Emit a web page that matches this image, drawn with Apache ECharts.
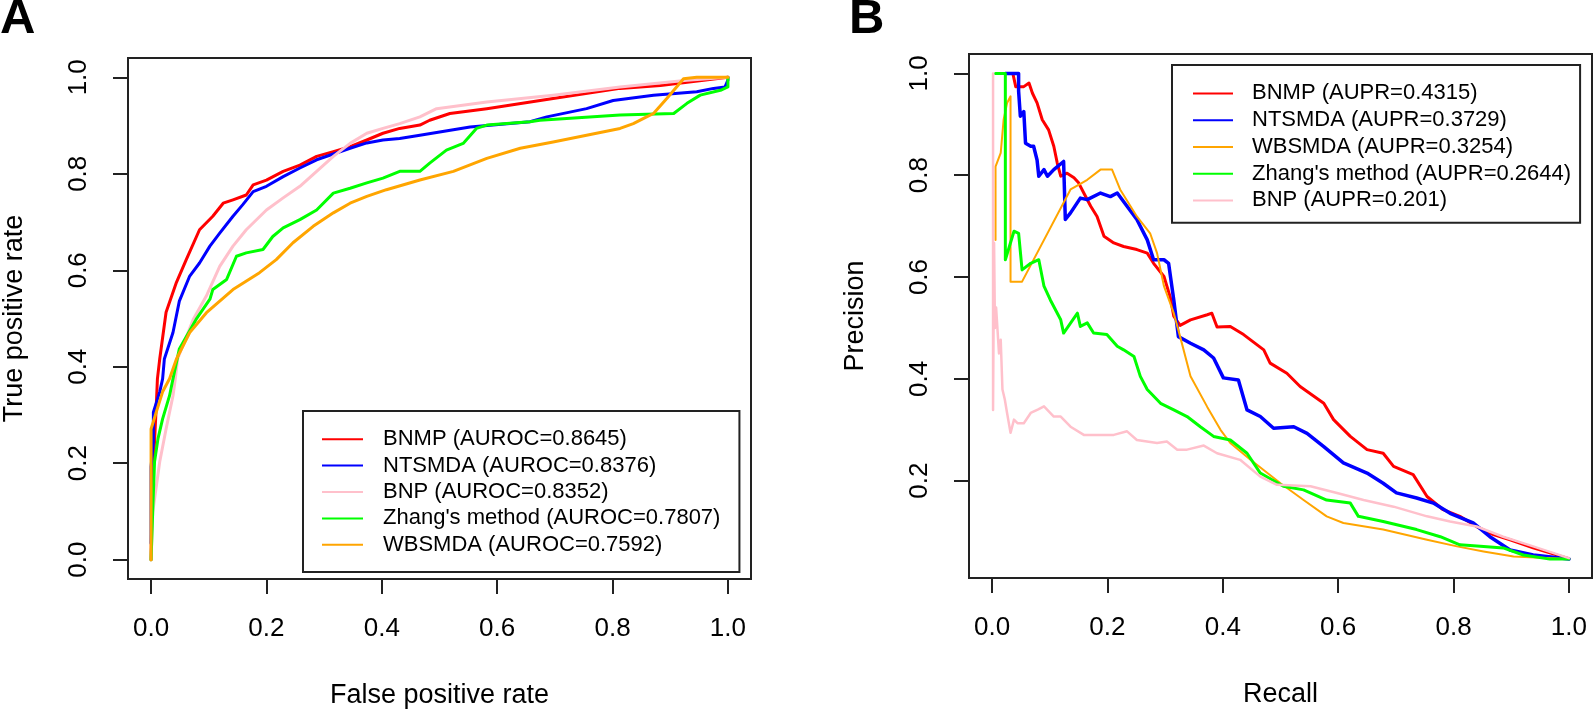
<!DOCTYPE html>
<html>
<head>
<meta charset="utf-8">
<title>ROC and PR curves</title>
<script src="https://cdn.jsdelivr.net/npm/echarts@6.0.0/dist/echarts.min.js"></script>
<style>
html,body{margin:0;padding:0;background:#fff;}
#main{width:1594px;height:714px;}
</style>
</head>
<body>
<div id="main"></div>
<script>
// tick labels
var rocTicks=[0,0.2,0.4,0.6,0.8,1.0];
var prXTicks=[0,0.2,0.4,0.6,0.8,1.0];
var prYTicks=[0.2,0.4,0.6,0.8,1.0];

// legend names (in legend order)
var rocNames=['BNMP (AUROC=0.8645)','NTSMDA (AUROC=0.8376)','BNP (AUROC=0.8352)',"Zhang's method (AUROC=0.7807)",'WBSMDA (AUROC=0.7592)'];
var prNames=['BNMP (AUPR=0.4315)','NTSMDA (AUPR=0.3729)','WBSMDA (AUPR=0.3254)',"Zhang's method (AUPR=0.2644)",'BNP (AUPR=0.201)'];

// ROC curves: [false positive rate, true positive rate]
var rocBNMP=[[0,0],[0.002,0.15],[0.006,0.245],[0.009,0.319],[0.011,0.375],[0.015,0.416],[0.026,0.513],[0.044,0.575],[0.061,0.622],[0.084,0.684],[0.107,0.712],[0.125,0.739],[0.142,0.746],[0.165,0.756],[0.177,0.777],[0.200,0.787],[0.229,0.805],[0.258,0.818],[0.287,0.836],[0.316,0.846],[0.345,0.856],[0.374,0.870],[0.402,0.884],[0.431,0.894],[0.466,0.901],[0.483,0.911],[0.518,0.925],[0.582,0.935],[0.697,0.956],[0.813,0.977],[0.883,0.983],[0.958,0.994],[1,1]];
var rocNTSMDA=[[0,0.034],[0,0.193],[0.004,0.245],[0.004,0.306],[0.015,0.348],[0.020,0.375],[0.023,0.416],[0.038,0.471],[0.049,0.536],[0.067,0.588],[0.084,0.615],[0.102,0.650],[0.119,0.677],[0.142,0.712],[0.159,0.736],[0.177,0.763],[0.200,0.774],[0.229,0.794],[0.258,0.812],[0.287,0.829],[0.316,0.841],[0.345,0.853],[0.374,0.864],[0.402,0.870],[0.431,0.873],[0.466,0.880],[0.553,0.897],[0.657,0.908],[0.686,0.918],[0.755,0.935],[0.801,0.952],[0.871,0.963],[0.946,0.970],[0.975,0.977],[0.995,0.980],[1,0.994],[1,1]];
var rocBNP=[[0,0],[0.003,0.1],[0.015,0.203],[0.026,0.271],[0.038,0.34],[0.042,0.375],[0.046,0.416],[0.073,0.498],[0.096,0.547],[0.119,0.608],[0.142,0.650],[0.165,0.684],[0.200,0.725],[0.229,0.750],[0.258,0.774],[0.287,0.805],[0.316,0.836],[0.345,0.863],[0.374,0.884],[0.402,0.894],[0.431,0.904],[0.466,0.918],[0.495,0.935],[0.582,0.949],[0.697,0.963],[0.813,0.980],[0.929,0.994],[1,1]];
var rocZhang=[[0,0],[0.003,0.106],[0.006,0.203],[0.012,0.251],[0.020,0.292],[0.032,0.34],[0.038,0.375],[0.049,0.437],[0.078,0.498],[0.102,0.540],[0.107,0.560],[0.131,0.581],[0.148,0.629],[0.165,0.636],[0.194,0.643],[0.211,0.670],[0.229,0.688],[0.258,0.705],[0.287,0.725],[0.316,0.760],[0.345,0.770],[0.374,0.781],[0.402,0.791],[0.431,0.805],[0.466,0.805],[0.483,0.822],[0.512,0.849],[0.541,0.863],[0.564,0.894],[0.582,0.901],[0.657,0.908],[0.674,0.911],[0.813,0.922],[0.906,0.925],[0.929,0.946],[0.952,0.963],[0.987,0.973],[1,0.98],[1,1]];
var rocWBSMDA=[[0,0],[0,0.203],[0,0.271],[0.009,0.306],[0.020,0.348],[0.032,0.375],[0.044,0.416],[0.067,0.471],[0.096,0.512],[0.142,0.560],[0.188,0.595],[0.217,0.622],[0.246,0.657],[0.281,0.691],[0.316,0.719],[0.345,0.739],[0.374,0.753],[0.408,0.767],[0.466,0.787],[0.524,0.805],[0.582,0.832],[0.640,0.853],[0.697,0.866],[0.755,0.880],[0.813,0.894],[0.836,0.904],[0.859,0.918],[0.871,0.925],[0.894,0.956],[0.911,0.980],[0.923,0.997],[0.946,1.0],[1,1]];

// PR curves: [recall, precision]
var prBNMP=[[0.036,1.0],[0.041,0.974],[0.055,0.974],[0.064,0.981],[0.070,0.961],[0.078,0.942],[0.087,0.909],[0.098,0.889],[0.107,0.857],[0.113,0.824],[0.119,0.798],[0.130,0.804],[0.142,0.795],[0.150,0.785],[0.159,0.765],[0.171,0.739],[0.182,0.719],[0.194,0.680],[0.211,0.667],[0.228,0.660],[0.251,0.654],[0.269,0.647],[0.280,0.627],[0.298,0.601],[0.309,0.560],[0.315,0.523],[0.326,0.505],[0.344,0.516],[0.373,0.526],[0.381,0.529],[0.390,0.502],[0.413,0.503],[0.436,0.487],[0.471,0.457],[0.482,0.431],[0.511,0.411],[0.534,0.385],[0.575,0.352],[0.592,0.320],[0.621,0.287],[0.650,0.261],[0.678,0.254],[0.696,0.228],[0.730,0.212],[0.754,0.169],[0.782,0.143],[0.811,0.130],[0.840,0.110],[0.869,0.094],[0.898,0.084],[0.938,0.068],[1.0,0.047]];
var prNTSMDA=[[0.023,1.0],[0.046,1.0],[0.046,0.965],[0.049,0.916],[0.055,0.925],[0.058,0.863],[0.067,0.857],[0.072,0.857],[0.078,0.830],[0.081,0.798],[0.090,0.811],[0.096,0.798],[0.107,0.811],[0.124,0.827],[0.127,0.713],[0.136,0.726],[0.153,0.755],[0.165,0.752],[0.188,0.765],[0.205,0.758],[0.217,0.765],[0.234,0.739],[0.251,0.713],[0.269,0.673],[0.280,0.634],[0.298,0.634],[0.306,0.627],[0.315,0.555],[0.323,0.483],[0.344,0.470],[0.367,0.457],[0.384,0.441],[0.401,0.402],[0.427,0.398],[0.442,0.339],[0.465,0.326],[0.488,0.303],[0.523,0.306],[0.546,0.293],[0.575,0.267],[0.609,0.235],[0.650,0.215],[0.678,0.195],[0.701,0.176],[0.736,0.166],[0.765,0.156],[0.794,0.136],[0.834,0.117],[0.863,0.090],[0.898,0.064],[0.938,0.054],[1.0,0.046]];
var prWBSMDA=[[0.006,0.673],[0.006,0.817],[0.015,0.844],[0.020,0.909],[0.026,0.942],[0.032,0.955],[0.032,0.591],[0.052,0.591],[0.136,0.772],[0.150,0.781],[0.165,0.791],[0.188,0.811],[0.208,0.811],[0.222,0.772],[0.251,0.719],[0.274,0.686],[0.286,0.647],[0.298,0.582],[0.315,0.529],[0.326,0.483],[0.344,0.405],[0.373,0.345],[0.396,0.300],[0.413,0.274],[0.448,0.241],[0.500,0.195],[0.540,0.162],[0.580,0.130],[0.609,0.117],[0.678,0.104],[0.754,0.084],[0.806,0.071],[0.852,0.061],[0.904,0.051],[1.0,0.046]];
var prZhang=[[0.006,1.0],[0.023,1.0],[0.023,0.634],[0.030,0.66],[0.038,0.69],[0.046,0.686],[0.052,0.614],[0.067,0.627],[0.081,0.634],[0.090,0.582],[0.101,0.555],[0.119,0.516],[0.124,0.490],[0.148,0.529],[0.153,0.503],[0.165,0.510],[0.176,0.490],[0.199,0.487],[0.217,0.464],[0.228,0.457],[0.246,0.444],[0.257,0.405],[0.269,0.379],[0.292,0.352],[0.315,0.339],[0.338,0.326],[0.361,0.306],[0.384,0.287],[0.413,0.280],[0.442,0.254],[0.465,0.215],[0.505,0.189],[0.540,0.182],[0.580,0.162],[0.621,0.156],[0.635,0.130],[0.678,0.120],[0.736,0.104],[0.777,0.090],[0.811,0.074],[0.852,0.071],[0.886,0.068],[0.921,0.054],[0.967,0.046],[1.0,0.046]];
var prBNP=[[0.0017,1.0],[0.0017,0.339],[0.0035,0.667],[0.005,0.5],[0.007,0.54],[0.009,0.542],[0.012,0.45],[0.015,0.477],[0.018,0.379],[0.022,0.36],[0.026,0.333],[0.032,0.294],[0.038,0.32],[0.044,0.313],[0.055,0.313],[0.067,0.333],[0.080,0.34],[0.090,0.346],[0.107,0.326],[0.119,0.326],[0.136,0.306],[0.159,0.290],[0.194,0.290],[0.211,0.290],[0.234,0.297],[0.251,0.280],[0.286,0.274],[0.303,0.277],[0.321,0.261],[0.338,0.261],[0.367,0.269],[0.390,0.254],[0.430,0.241],[0.465,0.208],[0.494,0.192],[0.552,0.189],[0.598,0.176],[0.644,0.162],[0.696,0.149],[0.754,0.130],[0.794,0.120],[0.840,0.110],[0.886,0.090],[0.938,0.071],[1.0,0.048]];

var FONT="'Liberation Sans', Arial, sans-serif";
var chart=echarts.init(document.getElementById('main'));

function fmt(v){ return v.toFixed(1); }

function xAxisCfg(gi, ticks, name){
    return {
        type:'value', gridIndex:gi, min:-0.04, max:1.04,
        name:name, nameLocation:'middle', nameGap:103,
        nameTextStyle:{fontSize:27, lineHeight:27, color:'#000', fontFamily:FONT},
        axisLine:{show:false, onZero:false},
        splitLine:{show:false},
        axisTick:{show:true, inside:false, length:15, customValues:ticks, lineStyle:{color:'#222', width:2}},
        axisLabel:{customValues:ticks, margin:37, fontSize:26, lineHeight:26, color:'#000', fontFamily:FONT, formatter:fmt}
    };
}
function yAxisCfg(gi, ticks, min, max, name){
    return {
        type:'value', gridIndex:gi, min:min, max:max,
        name:name, nameLocation:'middle', nameGap:100,
        nameTextStyle:{fontSize:27, lineHeight:27, color:'#000', fontFamily:FONT},
        axisLine:{show:false, onZero:false},
        splitLine:{show:false},
        axisTick:{show:true, inside:false, length:15, customValues:ticks, lineStyle:{color:'#222', width:2}},
        axisLabel:{customValues:ticks, rotate:90, margin:36, fontSize:26, lineHeight:26, color:'#000', fontFamily:FONT, formatter:fmt}
    };
}
function curve(name, data, color, width, gi){
    return {
        name:name, type:'line', data:data, xAxisIndex:gi, yAxisIndex:gi,
        symbol:'none', showSymbol:false, animation:false, silent:true,
        lineStyle:{color:color, width:width, cap:'round', join:'round'},
        itemStyle:{color:color}
    };
}

var option={
    backgroundColor:'#fff',
    animation:false,
    title:[
        {text:'A', left:0, top:-5, padding:0, textStyle:{fontSize:49, lineHeight:49, fontWeight:'bold', color:'#000', fontFamily:FONT}},
        {text:'B', left:849, top:-5, padding:0, textStyle:{fontSize:49, lineHeight:49, fontWeight:'bold', color:'#000', fontFamily:FONT}}
    ],
    grid:[
        {left:127, top:58, width:624, height:524, show:true, borderColor:'#222', borderWidth:2, backgroundColor:'transparent'},
        {left:969, top:54, width:623, height:524, show:true, borderColor:'#222', borderWidth:2, backgroundColor:'transparent'}
    ],
    xAxis:[
        xAxisCfg(0, rocTicks, 'False positive rate'),
        xAxisCfg(1, prXTicks, 'Recall')
    ],
    yAxis:[
        yAxisCfg(0, rocTicks, -0.04, 1.04, 'True positive rate'),
        yAxisCfg(1, prYTicks, 0.0089, 1.0381, 'Precision')
    ],
    legend:[
        {
            data:rocNames, orient:'vertical', left:303, top:411,
            padding:[15,19,14,19], itemGap:0, itemWidth:41, itemHeight:2, icon:'rect',
            selectedMode:false, borderColor:'#222', borderWidth:2, backgroundColor:'#fff',
            textStyle:{fontSize:22, lineHeight:26.4, color:'#000', fontFamily:FONT, padding:[0,0,0,15]}
        },
        {
            data:prNames, orient:'vertical', left:1172, top:65,
            padding:[15,9,9,21], itemGap:0, itemWidth:40, itemHeight:2, icon:'rect',
            selectedMode:false, borderColor:'#222', borderWidth:2, backgroundColor:'#fff',
            textStyle:{fontSize:22, lineHeight:26.75, color:'#000', fontFamily:FONT, padding:[0,0,0,14]}
        }
    ],
    series:[
        curve(rocNames[0], rocBNMP, '#ff0000', 3, 0),
        curve(rocNames[1], rocNTSMDA, '#0000ff', 3, 0),
        curve(rocNames[2], rocBNP, '#ffc0cb', 3, 0),
        curve(rocNames[3], rocZhang, '#00ff00', 3, 0),
        curve(rocNames[4], rocWBSMDA, '#ffa500', 3, 0),
        curve(prNames[0], prBNMP, '#ff0000', 3, 1),
        curve(prNames[1], prNTSMDA, '#0000ff', 3.5, 1),
        curve(prNames[2], prWBSMDA, '#ffa500', 2, 1),
        curve(prNames[3], prZhang, '#00ff00', 3, 1),
        curve(prNames[4], prBNP, '#ffc0cb', 2.5, 1)
    ]
};
chart.setOption(option);
</script>
</body>
</html>
